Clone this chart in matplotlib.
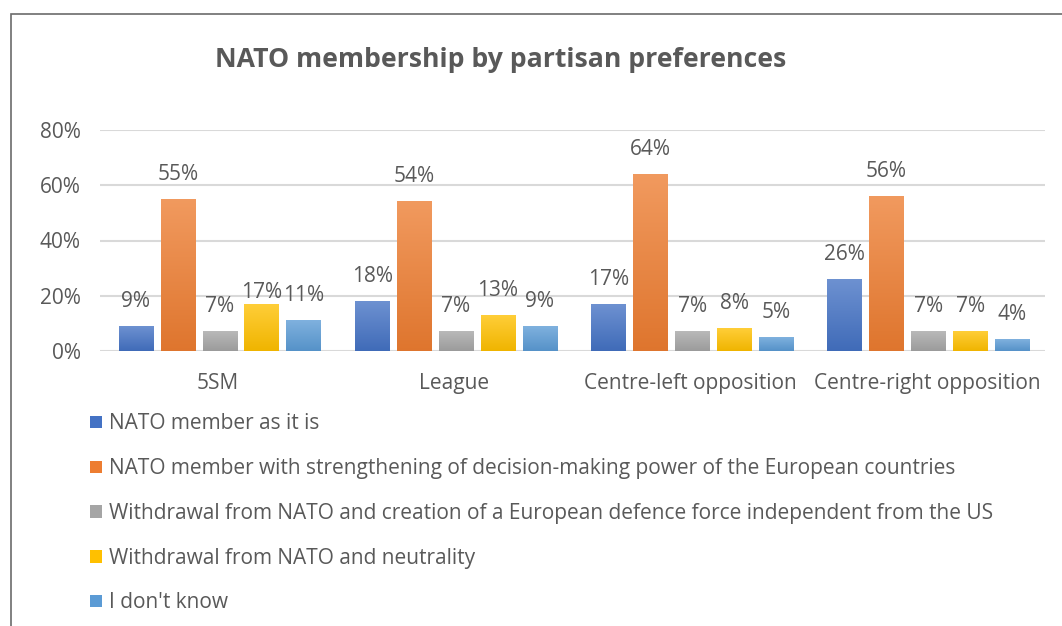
import numpy as np
import matplotlib
matplotlib.use('Agg')
import matplotlib.pyplot as plt
from matplotlib.patches import Patch, Rectangle
from matplotlib.colors import to_rgb

plt.rcParams['font.family'] = ['Open Sans', 'DejaVu Sans']

# ─── Data ─────────────────────────────────────────────────────────────────────
categories = ['5SM', 'League', 'Centre-left opposition', 'Centre-right opposition']
series_names = [
    'NATO member as it is',
    'NATO member with strengthening of decision-making power of the European countries',
    'Withdrawal from NATO and creation of a European defence force independent from the US',
    'Withdrawal from NATO and neutrality',
    "I don't know",
]
member_as_is = [9, 18, 17, 26]
member_stronger_eu = [55, 54, 64, 56]
withdraw_eu_force = [7, 7, 7, 7]
withdraw_neutral = [17, 13, 8, 7]
dont_know = [11, 9, 5, 4]
series_values = [member_as_is, member_stronger_eu, withdraw_eu_force,
                 withdraw_neutral, dont_know]
y_ticks = [0, 20, 40, 60, 80]

colors = ['#4472C4', '#ED7D31', '#A5A5A5', '#FFC000', '#5B9BD5']
text_col = '#595959'
fs = 15


def mix(c, other, t):
    c = np.array(to_rgb(c))
    o = np.array(to_rgb(other))
    return c * (1 - t) + o * t


fig = plt.figure(figsize=(10.62, 6.26), dpi=100)
ax = fig.add_axes([100 / 1062, 1 - 351 / 626, 945 / 1062, 221 / 626])

# outer chart frame (cut off at right/bottom like the screenshot)
fig.patches.append(Rectangle((11 / 1062, -0.05), 1.2, 1 - 14 / 626 + 0.05,
                             transform=fig.transFigure, fill=False,
                             edgecolor='#6b6b6b', linewidth=1.2))

x = np.arange(len(categories))
pitch = 0.1775
width = 0.146

for i, (vals, col) in enumerate(zip(series_values, colors)):
    xs = x + (i - 2) * pitch + 0.007
    top = mix(col, 'white', 0.22)
    bot = mix(col, 'black', 0.06)
    grad = np.linspace(0, 1, 64)[:, None, None]
    img = top[None, None, :] * (1 - grad) + bot[None, None, :] * grad
    for xc, v in zip(xs, vals):
        ax.imshow(img, extent=[xc - width / 2, xc + width / 2, 0, v / 100],
                  aspect='auto', origin='upper', zorder=3, interpolation='bilinear')
        dy = 18
        if i == 3 and v == 17:
            dy = 8  # label was nudged down in the original
        ax.annotate(f'{v}%', (xc, v / 100), xytext=(0, dy), textcoords='offset points',
                    ha='center', va='center', fontsize=fs, color=text_col, zorder=4)

ax.set_xlim(-0.5, len(categories) - 0.5)
ax.set_ylim(0, 0.8)
ax.set_yticks([t / 100 for t in y_ticks])
ax.set_yticklabels([f'{t}%' for t in y_ticks])
ax.set_xticks(x)
ax.set_xticklabels(categories)
ax.tick_params(axis='both', length=0, colors=text_col, labelsize=fs)
ax.tick_params(axis='y', pad=14)
ax.tick_params(axis='x', pad=16)
ax.grid(axis='y', color='#D9D9D9', linewidth=1.5, zorder=0)
ax.set_axisbelow(True)
for s in ax.spines.values():
    s.set_visible(False)

fig.text(501 / 1062, 1 - 60 / 626, 'NATO membership by partisan preferences',
         ha='center', va='center', fontsize=19.2, fontweight='bold', color=text_col)

handles = [Patch(facecolor=c, edgecolor='none') for c in colors]
fig.legend(handles, series_names, loc='upper left',
           bbox_to_anchor=(80 / 1062, 1 - 403 / 626), frameon=False,
           fontsize=fs, labelcolor=text_col, handlelength=0.55, handleheight=0.55,
           handletextpad=0.35, labelspacing=1.14, borderpad=0)

fig.savefig('out.png', dpi=100)
